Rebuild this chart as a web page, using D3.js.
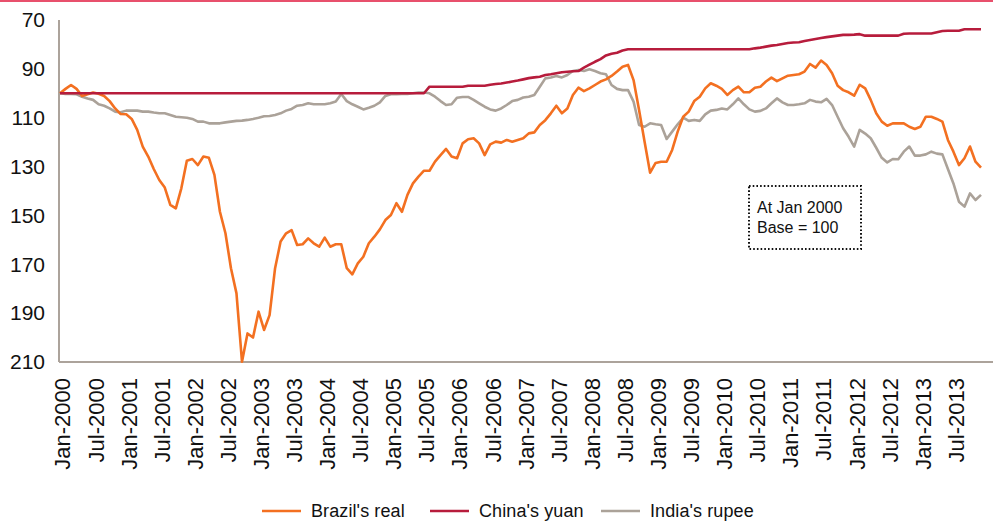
<!DOCTYPE html>
<html>
<head>
<meta charset="utf-8">
<script src="https://cdn.jsdelivr.net/npm/d3@7"></script>
<style>
  body { margin: 0; background: #fff; }
  svg { display: block; font-family: "Liberation Sans", Arial, Helvetica, sans-serif; }
  .axis path { stroke: #aca39b; stroke-width: 2; }
  .axis text { fill: #111; }
  .series { fill: none; stroke-width: 2.6; stroke-linejoin: round; }
</style>
</head>
<body>
<div id="chart"></div>
<script>
//////////////////////////////////////////////////// DATA
// monthly, Jan-2000 .. Dec-2013, index Jan 2000 = 100 (axis inverted)
var startMonth = new Date(2000, 0, 1);
var endMonth = new Date(2014, 0, 1);
var yTicks = [70, 90, 110, 130, 150, 170, 190, 210];
var seriesNames = ["Brazil's real", "China's yuan", "India's rupee"];
var seriesColors = ["#f37021", "#b71c3c", "#aba299"];

var brazil = [
  100, 98.2, 96.6, 98.2, 101.1, 100.4, 99.7, 100.2, 101.1, 103.2,
  106.2, 108.5, 108.6, 110.5, 115, 121.8, 125.9, 131, 135.5, 138.6,
  145.7, 147.1, 138.9, 127.6, 126.9, 129.4, 125.9, 126.4, 133.4, 148.5,
  157.3, 171.6, 181.9, 209.9, 198.3, 200, 189.4, 196.9, 190.8, 171.6,
  160.7, 157.3, 156, 162.1, 161.8, 159.4, 161.4, 162.8, 159.1, 162.8,
  161.8, 161.8, 171.6, 174.1, 169.6, 166.9, 161.4, 158.7, 155.7, 151.9,
  149.8, 145, 148.5, 141.6, 136.9, 134.1, 131.7, 131.7, 128, 125.3,
  122.8, 125.9, 126.6, 120.5, 118.8, 118.4, 120.5, 125.3, 120.9, 119.8,
  120.2, 119.1, 119.8, 119.1, 118.4, 116.4, 116, 113, 111, 108.2,
  105.1, 108.2, 106.2, 100.7, 97.7, 99.1, 98, 96.6, 95.2, 94.3,
  92.9, 91.1, 89.1, 88.4, 94.6, 106.8, 119.8, 132.5, 128.5, 128,
  128, 123.2, 115.7, 109.6, 107.5, 103.2, 101.4, 98, 95.9, 96.9,
  98.2, 100.7, 98.7, 97.3, 99.6, 99.6, 97.7, 97.3, 95.2, 93.6,
  95, 93.9, 92.8, 92.5, 92.2, 91.1, 88, 89.5, 86.6, 88.4,
  91.8, 96.9, 98.7, 99.6, 101, 96.5, 98, 102.7, 108.2, 111.6,
  113.3, 112.3, 112.3, 112.3, 113.7, 114.6, 113.7, 109.6, 109.6, 110.5,
  111.6, 119.1, 123.9, 129.4, 126.6, 121.8, 128, 130.4
];

var china = [
  100, 100, 100, 100, 100, 100, 100, 100, 100, 100,
  100, 100, 100, 100, 100, 100, 100, 100, 100, 100,
  100, 100, 100, 100, 100, 100, 100, 100, 100, 100,
  100, 100, 100, 100, 100, 100, 100, 100, 100, 100,
  100, 100, 100, 100, 100, 100, 100, 100, 100, 100,
  100, 100, 100, 100, 100, 100, 100, 100, 100, 100,
  100, 100, 100, 100, 100, 100, 100, 97.3, 97.3, 97.3,
  97.3, 97.3, 97.3, 97.3, 96.9, 96.9, 96.9, 96.9, 96.5, 96.2,
  96, 95.6, 95.2, 94.8, 94.3, 93.8, 93.5, 93.2, 92.5, 92.2,
  91.8, 91.4, 91.2, 91, 90.9, 89.5, 88.3, 87.1, 86, 84.5,
  83.8, 83.4, 82.5, 82, 82, 82, 82, 82, 82, 82,
  82, 82, 82, 82, 82, 82, 82, 82, 82, 82,
  82, 82, 82, 82, 82, 82, 81.6, 81.3, 80.9, 80.5,
  80.2, 79.8, 79.4, 79.2, 79.1, 78.6, 78.2, 77.8, 77.4, 77,
  76.7, 76.4, 76.1, 76.1, 76, 75.8, 76.4, 76.4, 76.4, 76.4,
  76.4, 76.4, 76.4, 75.6, 75.5, 75.5, 75.5, 75.5, 75.5, 75,
  74.5, 74.4, 74.4, 74.4, 73.8, 73.8, 73.8, 73.8
];

var india = [
  100, 100.3, 100.3, 100.4, 101.4, 102.1, 102.7, 104.5, 105.1, 106.2,
  107.5, 107.8, 107.1, 107.1, 107.1, 107.5, 107.5, 107.9, 108.2, 108.2,
  108.9, 109.6, 109.8, 110, 110.5, 111.6, 111.6, 112.3, 112.3, 112.3,
  111.9, 111.6, 111.3, 111.2, 110.9, 110.5, 110, 109.4, 109.3, 108.9,
  108.2, 107.1, 106.4, 105.1, 104.8, 104.1, 104.5, 104.5, 104.5, 104.1,
  103.4, 100.3, 103.2, 104.5, 105.5, 106.6, 105.9, 105.1, 103.7, 101.1,
  100.4, 100.4, 100.3, 100.3, 100, 99.7, 99.7, 100, 101.4, 103.2,
  104.8, 104.5, 101.8, 101.5, 101.5, 102.7, 104.1, 105.5, 106.6, 107.1,
  106.2, 104.8, 103.2, 102.7, 101.7, 101.4, 100.7, 97.3, 93.9, 93.5,
  92.9, 93.5, 92.5, 90.9, 90.5, 90.9, 90.2, 90.9, 91.8, 92.2,
  96.6, 98.2, 98.7, 98.7, 103.4, 113, 113.7, 112.3, 112.7, 113,
  118.7, 115.7, 112.7, 110, 111.3, 110.9, 111.3, 108.6, 107.1, 106.8,
  106.2, 106.6, 104.5, 102.1, 104.5, 106.6, 107.5, 107.2, 106.2, 104.1,
  102.1, 103.7, 104.8, 104.8, 104.5, 104.1, 102.7, 103.4, 103.7, 102.3,
  104.8, 109.6, 114.3, 117.8, 121.8, 115, 116.5, 118.4, 122.3, 126.4,
  128.3, 126.9, 127, 123.9, 121.8, 125.5, 125.5, 125, 123.9, 124.7,
  125, 131, 136.9, 144.4, 146.4, 141, 143.7, 141.6
];

//////////////////////////////////////////////////// LAYOUT
var totalW = 993;
var totalH = 521;
var leftX = 59;
var dataLeft = 60;
var dataRight = 981;
var topY = 20;
var bottomY = 362;

var months = d3.timeMonth.range(startMonth, endMonth);
var fmt = d3.timeFormat("%b-%Y");
var labels = months.map(fmt);
var tickLabels = labels.filter(function(d, i) { return i % 6 === 0 && i < 168; });

var chart = d3.select("#chart").append("svg")
  .attr("width", totalW)
  .attr("height", totalH);

// top rule
chart.append("line")
  .attr("x1", 0).attr("x2", totalW)
  .attr("y1", 1).attr("y2", 1)
  .attr("stroke", "#e8506c")
  .attr("stroke-width", 2);

var x = d3.scalePoint().domain(labels).range([dataLeft, dataRight]);
var y = d3.scaleLinear().domain([70, 210]).range([topY, bottomY]);

/////////// AXES
var yAxis = chart.append("g")
  .attr("class", "axis")
  .attr("transform", "translate(" + leftX + ",0)")
  .call(d3.axisLeft(y).tickValues(yTicks).tickSize(0).tickPadding(14).tickSizeOuter(0));
yAxis.select(".domain").attr("d", "M0," + topY + "V" + bottomY);
yAxis.selectAll("text").style("font-size", "21px");

var xAxis = chart.append("g")
  .attr("class", "axis")
  .attr("transform", "translate(0," + bottomY + ")")
  .call(d3.axisBottom(x).tickValues(tickLabels).tickSize(0).tickSizeOuter(0));
xAxis.select(".domain").attr("d", "M" + leftX + ",0H" + totalW);
xAxis.selectAll("text")
  .style("font-size", "22px")
  .attr("text-anchor", "end")
  .attr("transform", "rotate(-90)")
  .attr("x", -16)
  .attr("y", 2)
  .attr("dy", "0.36em");

/////////// LINES
var allSeries = [brazil, china, india];
var line = d3.line()
  .x(function(d, i) { return x(labels[i]); })
  .y(function(d) { return y(d); });

chart.selectAll("path.series")
  .data([2, 0, 1])
  .enter().append("path")
    .attr("class", "series")
    .attr("stroke", function(k) { return seriesColors[k]; })
    .attr("d", function(k) { return line(allSeries[k]); });

/////////// NOTE BOX
var note = chart.append("g").attr("transform", "translate(749,186)");
note.append("rect")
  .attr("width", 112).attr("height", 63)
  .attr("fill", "#fff")
  .attr("stroke", "#111")
  .attr("stroke-width", 2)
  .attr("stroke-dasharray", "1.6 2.1");
note.append("text").attr("x", 8).attr("y", 27)
  .style("font-size", "16px").attr("fill", "#111").text("At Jan 2000");
note.append("text").attr("x", 8).attr("y", 47)
  .style("font-size", "16px").attr("fill", "#111").text("Base = 100");

/////////// LEGEND
var legendX = [262, 430, 601];
var legend = chart.selectAll("g.leg")
  .data(seriesNames)
  .enter().append("g")
    .attr("class", "leg")
    .attr("transform", function(d, i) { return "translate(" + legendX[i] + ",511)"; });
legend.append("line")
  .attr("x1", 0).attr("x2", 39)
  .attr("stroke", function(d, i) { return seriesColors[i]; })
  .attr("stroke-width", 2.6);
legend.append("text")
  .attr("x", 49).attr("y", 6)
  .style("font-size", "18px")
  .style("letter-spacing", "0.1px")
  .attr("fill", "#111")
  .text(function(d) { return d; });
</script>
</body>
</html>
